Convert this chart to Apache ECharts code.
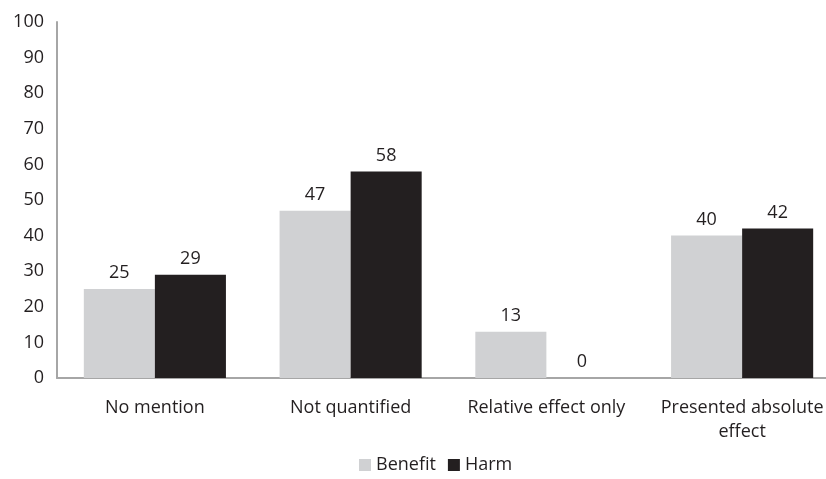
<!DOCTYPE html>
<html><head><meta charset="utf-8">
<script src="https://cdn.jsdelivr.net/npm/echarts@6/dist/echarts.min.js"></script>
<style>html,body{margin:0;padding:0;background:#fff}#c{width:826px;height:479px}</style>
</head><body><div id="c"></div>
<script>
const categories = ["No mention", "Not quantified", "Relative effect only", "Presented absolute\neffect"];
const benefit = [25, 47, 13, 40];
const harm = [29, 58, 0, 42];
const yTicks = [0, 100, 10];

const font = "'Open Sans', 'Noto Sans', sans-serif";
const chart = echarts.init(document.getElementById('c'));
const lbl = {show: true, position: 'top', distance: 7, color: '#231f20', fontSize: 18, fontFamily: font};
chart.setOption({
  animation: false,
  textStyle: {fontFamily: font},
  grid: {left: 57, width: 783, top: 22, bottom: 101, outerBoundsMode: 'none', containLabel: false},
  legend: {
    bottom: 0, left: 354, itemWidth: 12, itemHeight: 12, itemGap: 12,
    icon: 'rect',
    textStyle: {fontSize: 18, color: '#231f20', fontFamily: font},
    data: ['Benefit', 'Harm']
  },
  xAxis: {
    type: 'category', data: categories,
    axisLine: {lineStyle: {color: '#a6a6a6', width: 2}},
    axisTick: {show: false},
    axisLabel: {color: '#231f20', fontSize: 18, margin: 18, lineHeight: 24, fontFamily: font, interval: 0, hideOverlap: false}
  },
  yAxis: {
    type: 'value', min: yTicks[0], max: yTicks[1], interval: yTicks[2],
    axisLine: {show: true, lineStyle: {color: '#a6a6a6', width: 2}},
    axisTick: {show: false},
    splitLine: {show: false},
    axisLabel: {color: '#231f20', fontSize: 18, margin: 13, fontFamily: font}
  },
  series: [
    {name: 'Benefit', type: 'bar', data: benefit, barGap: '0%', barCategoryGap: '27.4%',
     itemStyle: {color: '#d0d1d3'}, label: lbl},
    {name: 'Harm', type: 'bar', data: harm,
     itemStyle: {color: '#231f20'}, label: lbl}
  ]
});
</script></body></html>
